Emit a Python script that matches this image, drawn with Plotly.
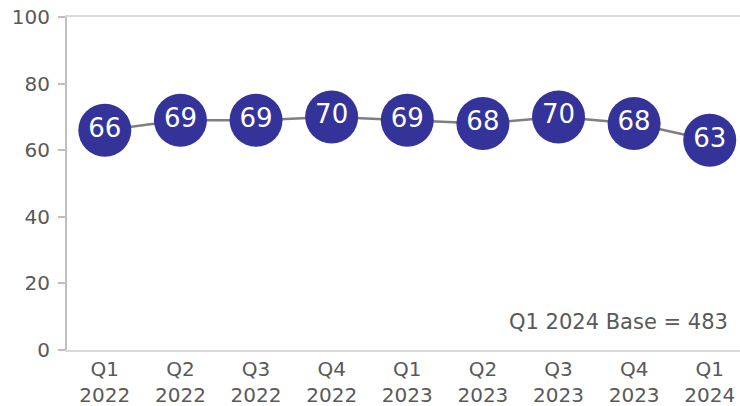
import plotly.graph_objects as go

quarters = ["Q1<br>2022", "Q2<br>2022", "Q3<br>2022", "Q4<br>2022",
            "Q1<br>2023", "Q2<br>2023", "Q3<br>2023", "Q4<br>2023", "Q1<br>2024"]
scores = [66, 69, 69, 70, 69, 68, 70, 68, 63]
y_ticks = [0, 20, 40, 60, 80, 100]
base_note = "Q1 2024 Base = 483"

FONT = "DejaVu Sans"
TICK_GREY = "#595959"

fig = go.Figure()
fig.add_trace(go.Scatter(
    x=list(range(len(quarters))),
    y=scores,
    mode="lines+markers+text",
    line=dict(color="#7f7f7f", width=2.5),
    marker=dict(size=53, color="#333399"),
    text=[str(v) for v in scores],
    textposition="middle center",
    textfont=dict(family=FONT, size=26, color="white"),
    hoverinfo="skip",
))

fig.update_layout(
    width=740, height=406,
    margin=dict(l=67, r=0, t=17, b=56),
    paper_bgcolor="white", plot_bgcolor="white",
    showlegend=False,
    xaxis=dict(
        range=[-0.5, 8.4],
        tickmode="array",
        tickvals=list(range(len(quarters))),
        ticktext=quarters,
        showgrid=False, zeroline=False,
        showline=True, mirror=True, linecolor="#d9d9d9", linewidth=2,
        ticks="",
        tickfont=dict(family=FONT, size=20, color=TICK_GREY),
    ),
    yaxis=dict(
        range=[0, 100],
        tickvals=y_ticks,
        showgrid=False, zeroline=False,
        showline=True, linecolor="#bfbfbf", linewidth=2,
        ticks="outside", ticklen=7, tickcolor="#bfbfbf", tickwidth=2,
        ticklabelstandoff=4,
        tickfont=dict(family=FONT, size=20, color=TICK_GREY),
    ),
    annotations=[dict(
        text=base_note, xref="paper", yref="paper",
        x=0.985, y=0.085, xanchor="right", yanchor="middle",
        showarrow=False,
        font=dict(family=FONT, size=21, color=TICK_GREY),
    )],
)

fig.write_html("out.html")
